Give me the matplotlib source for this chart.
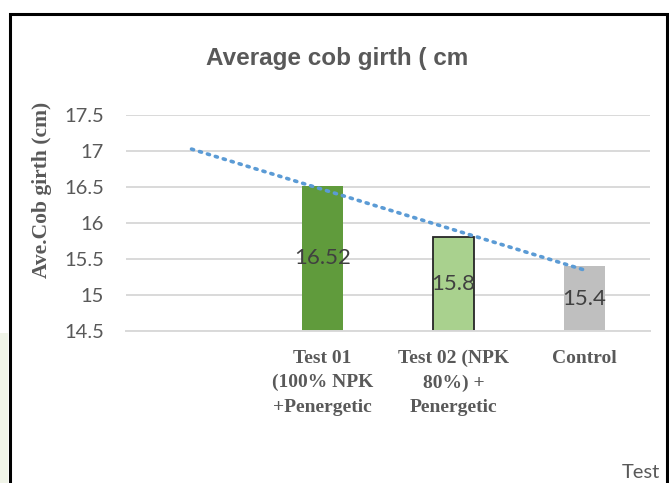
import numpy as np
import matplotlib
matplotlib.use("Agg")
import matplotlib.pyplot as plt
from matplotlib.patches import Rectangle

categories = ["", "Test 01\n(100% NPK\n+Penergetic", "Test 02 (NPK\n80%) +\nPenergetic", "Control"]
values = [np.nan, 16.52, 15.8, 15.4]
labels = ["", "16.52", "15.8", "15.4"]
bar_colors = ["#609B3C", "#609B3C", "#A9D18E", "#BFBFBF"]
edge_colors = ["none", "none", "#262626", "none"]
yticks = [14.5, 15, 15.5, 16, 16.5, 17, 17.5]

W, H = 669, 483
fig = plt.figure(figsize=(W / 100, H / 100), dpi=100)
fig.patch.set_facecolor("white")

# faint slide background on far left
fig.patches.append(Rectangle((0, 0), 8 / W, 150 / H, transform=fig.transFigure,
                             facecolor="#f0f4e8", edgecolor="none", zorder=0))

ax = fig.add_axes([126 / W, (H - 331) / H, (650 - 126) / W, (331 - 115) / H])
x = np.arange(1, len(categories) + 1)
vals = np.array(values, dtype=float)

ax.set_ylim(14.5, 17.5)
ax.set_xlim(0.5, len(categories) + 0.5)
ax.set_yticks(yticks)
ax.set_yticklabels([f"{t:g}" for t in yticks], fontfamily="Lato", fontsize=14.5, color="#595959")
ax.yaxis.grid(True, color="#D9D9D9", lw=1.4)
ax.set_axisbelow(True)
for s in ["top", "right", "left"]:
    ax.spines[s].set_visible(False)
ax.spines["bottom"].set_color("#D9D9D9")
ax.spines["bottom"].set_linewidth(1.4)
ax.tick_params(axis="y", length=0, pad=16)
ax.tick_params(axis="x", length=0, pad=13.5)

mask = ~np.isnan(vals)
ax.bar(x[mask], vals[mask] - 14.5, bottom=14.5, width=0.31,
       color=[c for c, m in zip(bar_colors, mask) if m],
       edgecolor=[c for c, m in zip(edge_colors, mask) if m], linewidth=1.3, zorder=2)

for xi, v, lab, m in zip(x, vals, labels, mask):
    if m:
        ax.text(xi, (v + 14.5) / 2, lab, ha="center", va="center", fontfamily="Lato",
                fontsize=16, color="#404040", zorder=4)

# linear trendline (Excel-style, x = category index)
coef = np.polyfit(x[mask], vals[mask], 1)
xt = np.array([x[0], x[-1]], dtype=float)
ax.plot(xt, np.polyval(coef, xt), linestyle=(0, (0.6, 1.7)), color="#5B9BD5", lw=2.6,
        solid_capstyle="round", dash_capstyle="round", zorder=3)

ax.set_xticks(x)
ax.set_xticklabels(categories, fontfamily="Liberation Serif", fontweight="bold",
                   fontsize=14, color="#595959", linespacing=1.55)

fig.text(42 / W, 1 - 190 / H, "Ave.Cob girth (cm)", rotation=90, ha="center", va="center",
         fontfamily="Liberation Serif", fontweight="bold", fontsize=15.5, color="#595959")

fig.text(337 / W, 1 - 58 / H, "Average cob girth ( cm", ha="center", va="center",
         fontfamily=["Liberation Sans Narrow", "Liberation Sans"], fontweight="bold",
         fontsize=17.5, color="#595959")

fig.text(660 / W, 1 - 472 / H, "Test", ha="right", va="center", fontfamily="Lato",
         fontsize=14.5, color="#595959")

# chart border
fig.patches.append(Rectangle((9.5 / W, -0.05), (666.5 - 9.5) / W, (H - 14) / H + 0.05,
                             transform=fig.transFigure, fill=False, edgecolor="black",
                             lw=2.2, clip_on=False, zorder=5))

fig.savefig("out.png", dpi=100, facecolor="white")
